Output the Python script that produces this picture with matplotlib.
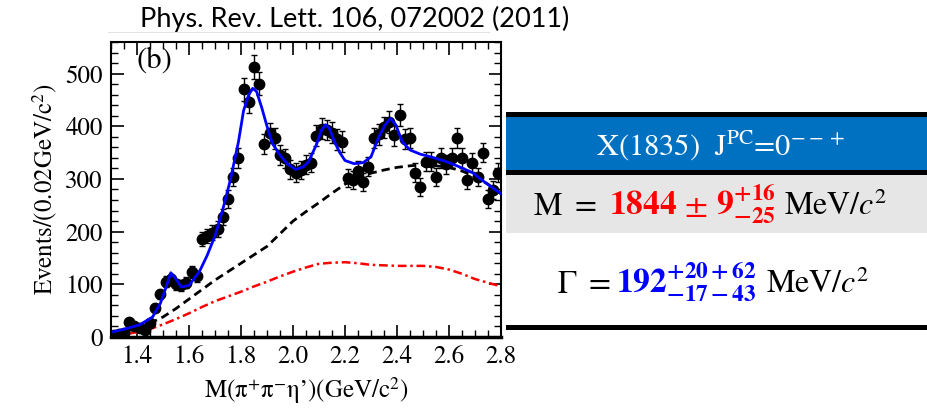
import numpy as np
import matplotlib
matplotlib.use("Agg")
from matplotlib import pyplot as plt
from matplotlib.patches import Rectangle
from matplotlib.ticker import MultipleLocator

plt.rcParams['mathtext.fontset'] = 'stix'
plt.rcParams['font.family'] = ['STIXGeneral', 'DejaVu Serif']

# Data
mass = np.round(np.arange(1.31, 2.80, 0.02), 2)   # bin centres, 0.02 GeV bins
events = [3, 6, 8, 28, 20, 18, 14, 27, 55, 81,
          105, 110, 100, 98, 103, 124, 115, 186, 192, 198,
          205, 228, 262, 304, 340, 470, 447, 513, 481, 366,
          387, 377, 345, 339, 318, 312, 317, 327, 331, 382,
          395, 393, 388, 375, 371, 302, 298, 316, 295, 323,
          378, 385, 398, 408, 383, 422, 376, 378, 312, 285,
          333, 333, 304, 340, 328, 340, 378, 340, 298, 331,
          304, 350, 262, 279, 312]
errors = np.sqrt(events)   # Poisson errors

fit_m = [1.31, 1.36, 1.41, 1.46, 1.49, 1.51, 1.53, 1.55, 1.57, 1.60,
         1.64, 1.67, 1.70, 1.73, 1.76, 1.79, 1.81, 1.83, 1.845, 1.86,
         1.88, 1.90, 1.92, 1.95, 1.98, 2.01, 2.04, 2.06, 2.09, 2.11,
         2.125, 2.14, 2.16, 2.18, 2.20, 2.235, 2.27, 2.30, 2.33, 2.355,
         2.375, 2.395, 2.42, 2.45, 2.49, 2.53, 2.59, 2.64, 2.69, 2.74, 2.80]
fit_v = [10, 16, 23, 38, 64, 92, 122, 110, 95, 98,
         124, 155, 192, 242, 300, 370, 430, 460, 472, 466,
         435, 400, 368, 345, 328, 318, 323, 333, 365, 393,
         403, 396, 370, 350, 335, 329, 331, 342, 380, 403,
         415, 403, 371, 355, 347, 342, 333, 323, 312, 293, 272]

bkg_m = [1.30, 1.35, 1.40, 1.45, 1.50, 1.55, 1.60, 1.65, 1.70, 1.75, 1.80, 1.85,
         1.90, 1.95, 2.00, 2.05, 2.10, 2.15, 2.20, 2.25, 2.30, 2.35, 2.40,
         2.45, 2.50, 2.55, 2.60, 2.65, 2.70, 2.75, 2.80]
bkg_v = [5, 10, 16, 26, 38, 54, 72, 90, 108, 124, 140, 156,
         172, 196, 220, 238, 255, 273, 290, 301, 311, 317, 322,
         325, 327, 325, 322, 315, 305, 290, 272]

ps_m = [1.30, 1.35, 1.40, 1.45, 1.50, 1.55, 1.60, 1.65, 1.70, 1.75, 1.80, 1.85,
        1.90, 1.95, 2.00, 2.05, 2.10, 2.15, 2.20, 2.25, 2.30, 2.35, 2.40,
        2.45, 2.50, 2.55, 2.60, 2.65, 2.70, 2.75, 2.80]
ps_v = [2, 5, 9, 15, 24, 34, 45, 57, 68, 77, 86, 96,
        105, 115, 124, 132, 139, 141, 142, 140, 137, 136, 135,
        135, 135, 133, 128, 120, 110, 103, 96]

W, H = 928, 411
fig = plt.figure(figsize=(W / 100, H / 100), dpi=100)

# Plot panel
ax = fig.add_axes([111 / W, 1 - 337 / H, (501 - 111) / W, (337 - 42) / H])
ax.plot(ps_m, ps_v, color='red', lw=1.8, ls=(0, (3.5, 1.5, 1, 1.5)), zorder=2)
ax.plot(bkg_m, bkg_v, color='black', lw=2.0, ls=(0, (3, 1.8)), zorder=2)
ax.errorbar(mass, events, yerr=errors, fmt='o', color='black', ms=7.5,
            elinewidth=1.0, capsize=2.5, capthick=1.0, zorder=3)
ax.plot(fit_m, fit_v, color='#0000ff', lw=2.0, zorder=4)

ax.set_xlim(1.3, 2.8)
ax.set_ylim(0, 560)
ax.xaxis.set_major_locator(MultipleLocator(0.2))
ax.xaxis.set_minor_locator(MultipleLocator(0.05))
ax.yaxis.set_major_locator(MultipleLocator(100))
ax.yaxis.set_minor_locator(MultipleLocator(20))
ax.tick_params(which='both', direction='in', top=True, right=True, labelsize=18, pad=6)
ax.tick_params(which='major', length=9, width=1.2)
ax.tick_params(which='minor', length=5, width=1.0)
ax.set_xticks([1.4, 1.6, 1.8, 2.0, 2.2, 2.4, 2.6, 2.8])
ax.set_xticklabels(['1.4', '1.6', '1.8', '2.0', '2.2', '2.4', '2.6', '2.8'])
for s in ax.spines.values():
    s.set_linewidth(1.5)
ax.spines['bottom'].set_linewidth(2.5)
ax.set_xlabel("M(\u03c0$^{+}$\u03c0$^{-}$\u03b7\u2019)(GeV/c$^{2}$)", fontsize=18, labelpad=4)
ax.set_ylabel("Events/(0.02GeV/c$^{2}$)", fontsize=18, labelpad=4)
ax.text(0.065, 0.985, "(b)", transform=ax.transAxes, fontsize=22, va='top')

# Title
fig.text(355 / W, 1 - 19 / H, "Phys. Rev. Lett. 106, 072002 (2011)",
         family='Lato', fontsize=19.5, ha='center', va='center')

# Right-hand table in pixel coordinates
ov = fig.add_axes([0, 0, 1, 1], facecolor='none')
ov.set_xlim(0, W)
ov.set_ylim(H, 0)
ov.axis('off')
ov.add_patch(Rectangle((108, 32.5), 382, 1, color='#e3e3e3', lw=0))
ov.add_patch(Rectangle((506, 116), W - 506, 54, color='#0070c0', lw=0))
ov.add_patch(Rectangle((506, 175), W - 506, 58, color='#e7e6e6', lw=0))
for y0, h in [(111.5, 5), (170, 5), (325, 5)]:
    ov.add_patch(Rectangle((506, y0), W - 506, h, color='black', lw=0))

ov.text(720, 155, r"X(1835)  J$^{\mathrm{PC}}$=0$^{--+}$", color='white',
        fontsize=22, ha='center', va='baseline')

# M row
ov.text(533, 215, r"M $=$", color='black', fontsize=23, ha='left', va='baseline')
ov.text(609, 215, r"$\mathbf{1844}\,\pm\,\mathbf{9}^{\mathbf{+16}}_{\mathbf{-25}}$",
        color='#ff0000', fontsize=24, ha='left', va='baseline')
ov.text(784, 215, r"MeV$/c^{2}$", color='black', fontsize=23, ha='left', va='baseline')

# Gamma row
ov.text(557, 293, r"$\Gamma$ $=$", color='black', fontsize=23, ha='left', va='baseline')
ov.text(616, 293, r"$\mathbf{192}^{\mathbf{+20+62}}_{\mathbf{-17-43}}$",
        color='#0000ff', fontsize=24, ha='left', va='baseline')
ov.text(766, 293, r"MeV$/c^{2}$", color='black', fontsize=23, ha='left', va='baseline')

fig.savefig("out.png", dpi=100)
